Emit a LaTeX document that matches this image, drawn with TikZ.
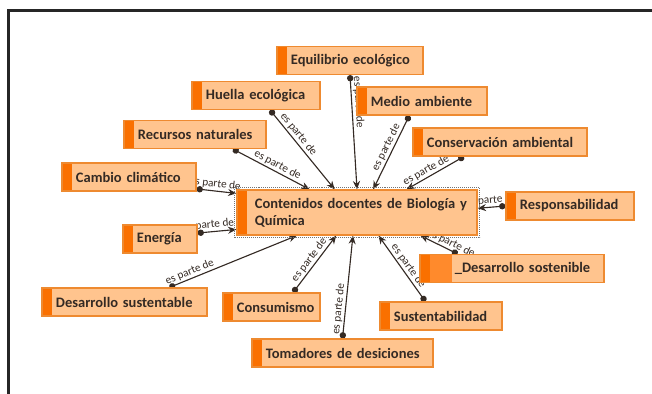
\documentclass[tikz,border=0pt]{standalone}
\usepackage{fontspec}
\setmainfont{Carlito}
\usetikzlibrary{arrows.meta, positioning, calc}
\definecolor{boxfill}{RGB}{255,196,142}
\definecolor{boxline}{RGB}{238,138,48}
\definecolor{stripe}{RGB}{250,112,0}
\definecolor{stripeB}{RGB}{255,138,44}
\definecolor{ink}{RGB}{52,42,36}
\pgfdeclarelayer{bg}
\pgfsetlayers{bg,main}

\begin{document}
\begin{tikzpicture}[x=0.025cm, y=-0.025cm, font=\fontsize{10.3}{12}\selectfont\bfseries,
        box/.style={rectangle, draw=boxline, fill=boxfill, line width=0.8pt, text=ink,
                    minimum height=0.7cm, inner xsep=0.15cm, inner ysep=2pt, align=left,
                    execute at begin node={\leftskip=0.2cm},
                    path picture={\fill[stripe] (path picture bounding box.north west) rectangle ([xshift=0.25cm]path picture bounding box.south west);}},
        concept/.style={box, text width=#1},
        wide stripe/.style={execute at begin node={\leftskip=0.72cm},
                    path picture={\fill[stripeB] (path picture bounding box.north west) rectangle ([xshift=0.8cm]path picture bounding box.south west);
                                  \fill[stripe] (path picture bounding box.north west) rectangle ([xshift=0.25cm]path picture bounding box.south west);}},
        conn/.style={{Circle[length=4.5pt]}-{Stealth[length=6pt, width=5pt]}, line width=0.8pt, ink},
        lab/.style={font=\fontsize{8}{9}\selectfont, sloped, above, inner sep=1pt, text=ink}]
    \useasboundingbox (0,0) rectangle (652,394);
    % frame
    \draw[line width=1.8pt, black!85] (652,10.5) -- (8.5,10.5) -- (8.5,394);

    % central topic
    \node[concept=5.7cm, minimum height=1.125cm, execute at begin node={\leftskip=0.3cm}] (main) at (357,212.5)
        {Contenidos docentes de Biología y\\Química};
    \draw[densely dotted, black!55] ([shift={(-2,-2)}]main.north west) rectangle ([shift={(2,2)}]main.south east);

    % concepts
    \node[concept=3.35cm] (eq) at (350,60.5) {Equilibrio ecológico};
    \node[concept=2.9cm] (huella) at (256,95.5) {Huella ecológica};
    \node[concept=2.95cm] (medio) at (422,101) {Medio ambiente};
    \node[concept=3.25cm] (recursos) at (195,134.5) {Recursos naturales};
    \node[concept=4.05cm] (conserv) at (500,142) {Conservación ambiental};
    \node[concept=3.05cm] (cambio) at (129,177) {Cambio climático};
    \node[concept=2.9cm] (resp) at (570,206) {Responsabilidad};
    \node[concept=1.55cm] (energia) at (160,239) {Energía};
    \node[concept=4.3cm, wide stripe] (dsost) at (512,268.5) {\_Desarrollo sostenible};
    \node[concept=3.825cm] (dsust) at (124.5,302) {Desarrollo sustentable};
    \node[concept=2.125cm] (consum) at (271.5,307) {Consumismo};
    \node[concept=2.75cm] (sustent) at (441,316) {Sustentabilidad};
    \node[concept=4.225cm] (tomad) at (342.5,353) {Tomadores de desiciones};

    % links
    \begin{pgfonlayer}{bg}
        \draw[conn] (eq.south) -- node[lab, pos=0.24]{es parte de} (main.90);
        \draw[conn] (huella.-46) -- node[lab, pos=0.36]{es parte de} (main.134);
        \draw[conn] (medio.-131) -- node[lab, pos=0.47]{es parte de} (main.55);
        \draw[conn] (recursos.-21) -- node[lab, pos=0.54]{es parte de} (main.154);
        \draw[conn] (conserv.-158) -- node[lab, pos=0.6]{es parte de} (main.25);
        \draw[conn] (cambio.-10) -- node[lab, pos=0.45]{es parte de} (main.171);
        \draw[conn] (resp.west) -- node[lab, pos=0.5]{es parte de} (main.2);
        \draw[conn] (energia.9) -- node[lab, pos=0.3]{es parte de} (main.188);
        \draw[conn] (dsost.165) -- node[lab, pos=0.25]{es parte de} (main.-20);
        \draw[conn] (dsust.18) -- node[lab, pos=0.18]{es parte de} (main.-159);
        \draw[conn] (consum.34) -- node[lab, pos=0.5]{es parte de} (main.-132);
        \draw[conn] (tomad.north) -- node[lab, pos=0.28]{es parte de} (main.-100);
        \draw[conn] (sustent.137) -- node[lab, pos=0.48]{es parte de} (main.-47);
    \end{pgfonlayer}
\end{tikzpicture}
\end{document}
